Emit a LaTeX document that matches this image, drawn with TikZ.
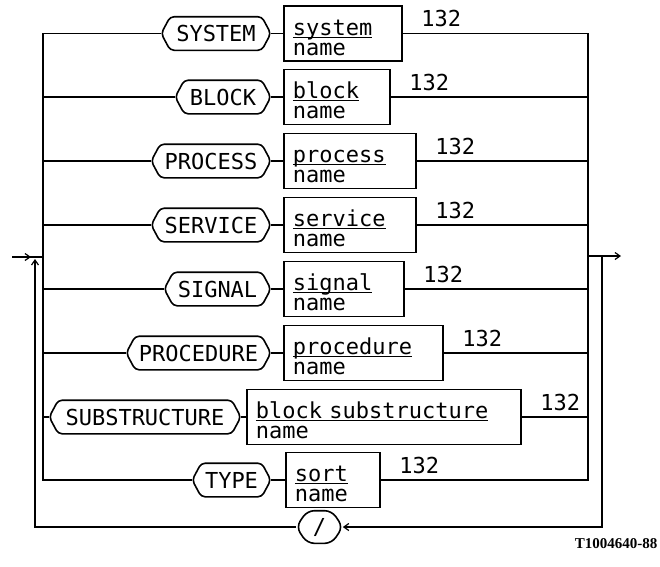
\documentclass[tikz,border=0pt]{standalone}
\usepackage{fontspec}
\setmainfont{DejaVu Sans Mono}
\newfontfamily\capfont{Liberation Serif}
\usetikzlibrary{arrows.meta}
\newcommand\ulx[1]{\rule{0pt}{24pt}\underline{\raisebox{0pt}[\height][0pt]{#1}}}
\begin{document}
\begin{tikzpicture}[x=1pt,y=-1pt, line width=1.6pt,
  font=\fontsize{22}{20}\selectfont,
  >={Straight Barb[length=5pt,width=7pt,line width=1.2pt]},
  term/.style={minimum height=32pt, inner sep=0pt},
  namebox/.style={draw, anchor=west, align=left, inner xsep=9pt, minimum height=55pt, inner ysep=0pt},
  num/.style={anchor=base west, inner sep=0pt}]
\useasboundingbox (0,0) rectangle (660,566);

% terminals
\node[term, minimum width=108pt] (t1) at (216,33.5) {SYSTEM};
\node[term, minimum width=94pt]  (t2) at (223,97) {BLOCK};
\node[term, minimum width=118pt] (t3) at (211,161) {PROCESS};
\node[term, minimum width=118pt] (t4) at (211,225) {SERVICE};
\node[term, minimum width=105pt] (t5) at (217.5,289) {SIGNAL};
\node[term, minimum width=143pt] (t6) at (198.5,353) {PROCEDURE};
\node[term, minimum width=190pt] (t7) at (145,417) {SUBSTRUCTURE};
\node[term, minimum width=77pt]  (t8) at (231.5,480) {TYPE};
\node[term, minimum width=45pt, minimum height=31pt] (t9) at (319.5,527) {/};
\foreach \n in {t1,t2,t3,t4,t5,t6,t7,t8}
  \draw[rounded corners=4pt] (\n.west) -- ([xshift=9pt]\n.north west) -- ([xshift=-9pt]\n.north east)
     -- (\n.east) -- ([xshift=-9pt]\n.south east) -- ([xshift=9pt]\n.south west) -- cycle;
\draw[rounded corners=7pt] (t9.west) -- ([xshift=11pt]t9.north west) -- ([xshift=-11pt]t9.north east)
     -- (t9.east) -- ([xshift=-11pt]t9.south east) -- ([xshift=11pt]t9.south west) -- cycle;

% name boxes
\node[namebox, text width=100pt] (b1) at (283,33.5) {\ulx{system}\\name};
\node[namebox, text width=88pt]  (b2) at (283,97) {\ulx{block}\\name};
\node[namebox, text width=114pt] (b3) at (283,161) {\ulx{process}\\name};
\node[namebox, text width=114pt] (b4) at (283,225) {\ulx{service}\\name};
\node[namebox, text width=102pt] (b5) at (283,289) {\ulx{signal}\\name};
\node[namebox, text width=141pt] (b6) at (283,353) {\ulx{procedure}\\name};
\node[namebox, text width=256pt] (b7) at (246,417) {\ulx{block substructure}\\name};
\node[namebox, text width=76pt]  (b8) at (285,480) {\ulx{sort}\\name};

% reference numbers
\foreach \b in {b1,b2,b3,b4,b5,b6,b7,b8}
  \node[num] (n\b) at ([shift={(18pt,7pt)}]\b.east) {132};

% buses
\coordinate (lt) at (43,33.5);
\coordinate (lb) at (43,480);
\coordinate (rt) at (588,33.5);
\coordinate (rb) at (588,480);
\draw (t1.west) -- (lt) -- (lb) -- (t8.west);
\draw (b1.east) -- (rt) -- (rb) -- (b8.east);
\foreach \i in {2,...,7} \draw (43,0|-t\i.west) -- (t\i.west);
\foreach \i in {2,...,7} \draw (b\i.east) -- (588,0|-b\i.east);
\foreach \i in {1,...,8} \draw (t\i.east) -- (b\i.west);

% entry and exit
\coordinate (in0) at (12,257);
\coordinate (inb) at (43,257);
\draw (in0) -- (inb);
\draw[->] (in0) -- (31,257);
\coordinate (outb) at (588,256);
\coordinate (out0) at (621,256);
\draw[->] (outb) -- (out0);

% loop back
\coordinate (rl) at (602,256);
\coordinate (rlb) at (602,527);
\coordinate (llb) at (35,527);
\coordinate (llt) at (35,259);
\draw[->] (rl) -- (rlb) -- (t9.east);
\draw[->] (t9.west) -- (llb) -- (llt);

\node[font=\capfont\bfseries\fontsize{15}{15}\selectfont, inner sep=0pt] (cap) at (616,544) {T1004640-88};
\end{tikzpicture}
\end{document}
